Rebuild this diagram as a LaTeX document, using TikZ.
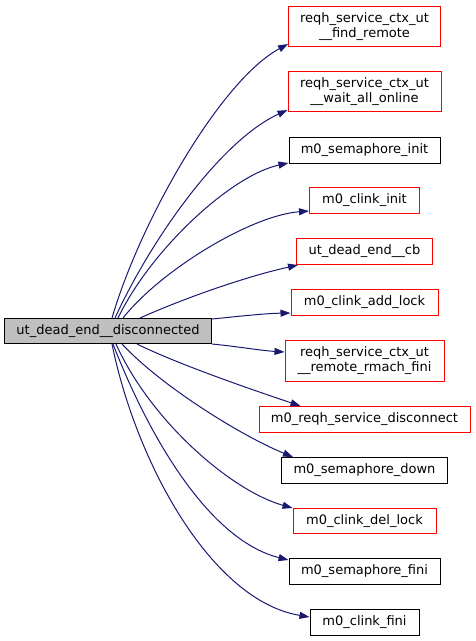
\documentclass[tikz,border=0pt]{standalone}
\usepackage{fontspec}
\setmainfont{DejaVu Sans}
\usetikzlibrary{arrows.meta}
\definecolor{edgeblue}{RGB}{25,25,112}
\definecolor{callred}{RGB}{255,0,0}
\definecolor{maingray}{RGB}{191,191,191}

\begin{document}
\begin{tikzpicture}[x=1pt,y=-1pt,
  fn/.style={draw=black,line width=1pt,inner sep=0pt,minimum height=26pt,
    align=center,font=\fontsize{13}{15}\selectfont},
  fnred/.style={fn,draw=callred},
  call/.style={edgeblue,line width=1pt,-{Triangle[length=10pt,width=7pt]}}]
  \useasboundingbox (0,0) rectangle (475,641);
  \begin{scope}[shift={(0.5,0.5)}]
  % caller
  \node[fn,fill=maingray,minimum width=207pt,minimum height=25pt] (main) at (107.5,330.5) {ut\_dead\_end\_\_disconnected};
  % callees
  \node[fnred,minimum width=152pt,minimum height=40pt] (findremote) at (364,26) {reqh\_service\_ctx\_ut\\\_\_find\_remote};
  \node[fnred,minimum width=153pt,minimum height=40pt] (waitall) at (364,91) {reqh\_service\_ctx\_ut\\\_\_wait\_all\_online};
  \node[fn,minimum width=151pt] (seminit) at (364,150) {m0\_semaphore\_init};
  \node[fnred,minimum width=110pt] (clinkinit) at (364,200) {m0\_clink\_init};
  \node[fnred,minimum width=136pt] (deadcb) at (364,251) {ut\_dead\_end\_\_cb};
  \node[fnred,minimum width=147pt] (addlock) at (364,302) {m0\_clink\_add\_lock};
  \node[fnred,minimum width=159pt,minimum height=41pt] (rmachfini) at (364,360.5) {reqh\_service\_ctx\_ut\\\_\_remote\_rmach\_fini};
  \node[fnred,minimum width=211pt] (disconnect) at (364,419) {m0\_reqh\_service\_disconnect};
  \node[fn,minimum width=166pt] (semdown) at (364,470) {m0\_semaphore\_down};
  \node[fnred,minimum width=143pt,minimum height=25pt] (dellock) at (364,520.5) {m0\_clink\_del\_lock};
  \node[fn,minimum width=151pt] (semfini) at (364,571) {m0\_semaphore\_fini};
  \node[fn,minimum width=109pt] (clinkfini) at (364,622) {m0\_clink\_fini};
  % calls above
  \draw[call] ([xshift=108pt]main.north west) .. controls (140,220) and (220,80) .. ([yshift=3pt]findremote.south west);
  \draw[call] ([xshift=111pt]main.north west) .. controls (150,240) and (220,140) .. ([yshift=2pt]waitall.south west);
  \draw[call] ([xshift=114pt]main.north west) .. controls (150,250) and (230,175) .. ([yshift=1pt]seminit.south west);
  \draw[call] ([xshift=119pt]main.north west) .. controls (160,270) and (250,215) .. ([yshift=3pt]clinkinit.south west);
  \draw[call] ([xshift=136pt]main.north west) .. controls (190,295) and (250,275) .. ([xshift=2pt]deadcb.south west);
  % calls to the right
  \draw[call] ([yshift=-1pt]main.north east) .. controls (237,316) and (263,313) .. ([yshift=3pt]addlock.south west);
  \draw[call] (main.south east) .. controls (237,346) and (260,350) .. ([yshift=-12pt]rmachfini.north west);
  % calls below
  \draw[call] ([xshift=133pt]main.south west) .. controls (180,365) and (260,392) .. ([xshift=42pt]disconnect.north west);
  \draw[call] ([xshift=118pt]main.south west) .. controls (160,385) and (240,435) .. ([xshift=12pt]semdown.north west);
  \draw[call] ([xshift=112pt]main.south west) .. controls (150,420) and (230,490) .. (dellock.north west);
  \draw[call] ([xshift=109pt]main.south west) .. controls (150,440) and (210,540) .. ([yshift=-2pt]semfini.north west);
  \draw[call] ([xshift=108pt]main.south west) .. controls (135,460) and (210,600) .. ([yshift=-8pt]clinkfini.north west);
  \end{scope}
\end{tikzpicture}
\end{document}
